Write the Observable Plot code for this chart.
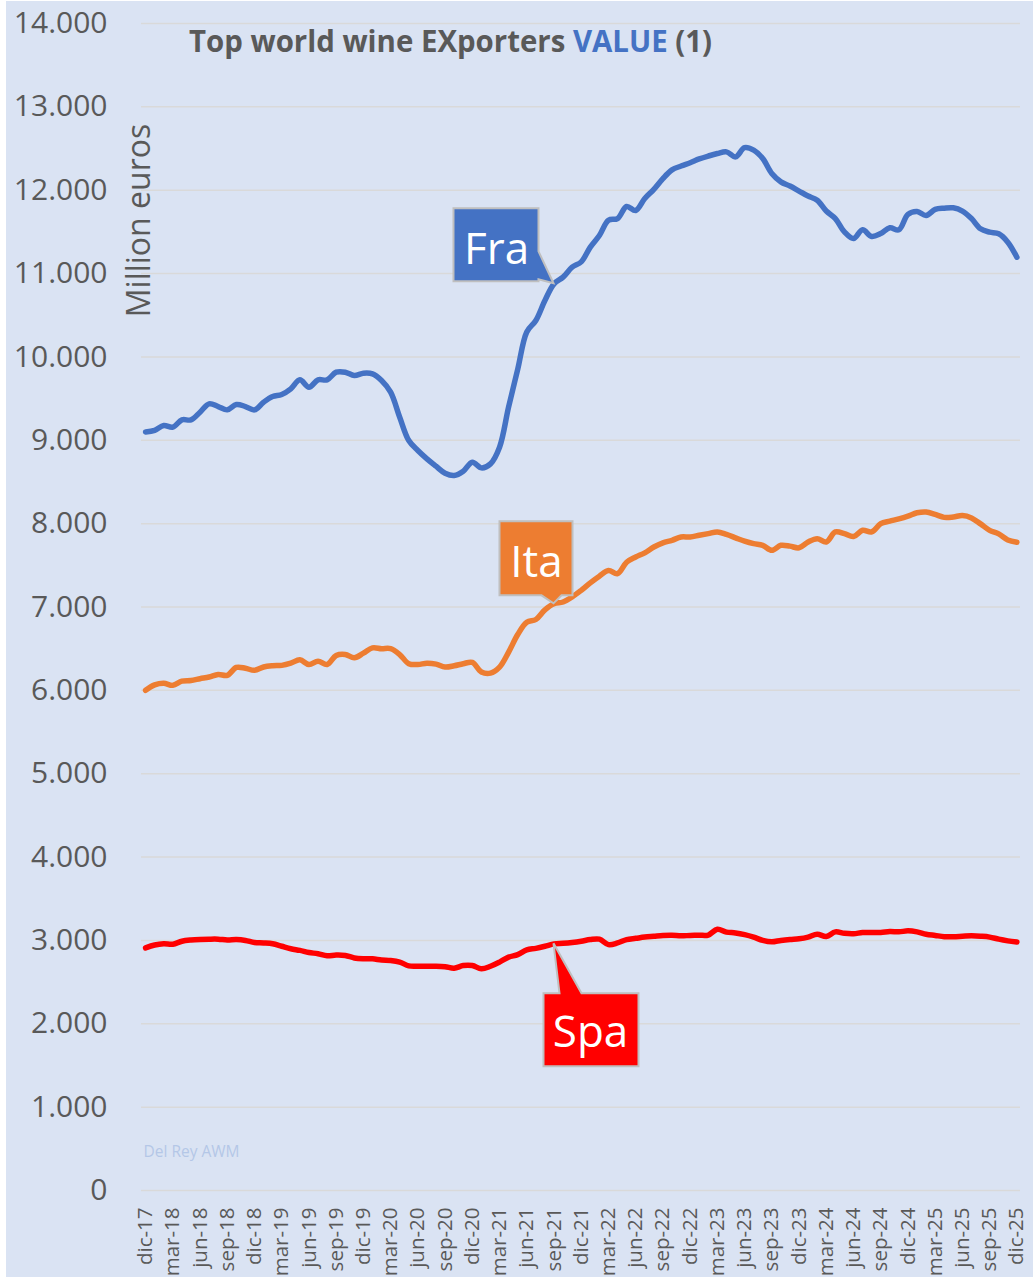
<!DOCTYPE html>
<html><head><meta charset="utf-8">
<script src="https://cdn.jsdelivr.net/npm/d3@7"></script>
<script src="https://cdn.jsdelivr.net/npm/@observablehq/plot@0.6"></script>
<style>
html,body{margin:0;padding:0;background:#fff;}
#wrap{position:relative;width:1033px;height:1277px;overflow:hidden;}
#bg{position:absolute;left:6px;top:1px;right:0;bottom:0;background:#dae3f3;}
#chart{position:absolute;left:0;top:0;}
#title{position:absolute;left:189px;top:20px;font-family:"Open Sans";font-weight:bold;font-size:30px;color:#595959;white-space:nowrap;transform-origin:0 0;}
</style></head><body>
<div id="wrap"><div id="bg"></div><div id="chart"></div><div id="title">Top world wine EXporters <span style="color:#4472c4">VALUE</span> (1)</div></div>
<script>
// Monthly values, dic-17 … dic-25 (million euros, moving annual total)
const fra = [9100, 9120, 9177, 9157, 9245, 9245, 9337, 9437, 9405, 9365,
  9429, 9405, 9365, 9457, 9525, 9549, 9617, 9725, 9637, 9725,
  9725, 9817, 9817, 9777, 9805, 9797, 9717, 9577, 9277, 8997,
  8877, 8777, 8689, 8605, 8577, 8629, 8737, 8669, 8717, 8917,
  9400, 9850, 10300, 10437, 10677, 10877, 10957, 11077, 11140, 11317,
  11457, 11640, 11660, 11805, 11757, 11900, 12010, 12140, 12244, 12290,
  12330, 12375, 12410, 12440, 12460, 12400, 12510, 12480, 12380, 12200,
  12100, 12050, 11990, 11930, 11880, 11750, 11660, 11500, 11420, 11525,
  11445, 11480, 11549, 11525, 11710, 11745, 11697, 11770, 11785, 11789,
  11750, 11660, 11537, 11497, 11477, 11377, 11196];
const ita = [6000, 6065, 6085, 6060, 6110, 6118, 6140, 6160, 6190, 6180,
  6275, 6265, 6240, 6280, 6295, 6300, 6326, 6366, 6310, 6350,
  6310, 6418, 6430, 6390, 6446, 6510, 6500, 6500, 6430, 6320,
  6310, 6326, 6315, 6280, 6295, 6320, 6335, 6220, 6206, 6278,
  6458, 6670, 6818, 6850, 6965, 7038, 7060, 7120, 7200, 7290,
  7370, 7437, 7400, 7537, 7600, 7650, 7720, 7770, 7800, 7840,
  7840, 7860, 7880, 7900, 7870, 7830, 7790, 7760, 7740, 7680,
  7740, 7730, 7710, 7780, 7820, 7780, 7900, 7880, 7845, 7920,
  7900, 8000, 8030, 8057, 8090, 8130, 8140, 8110, 8075, 8080,
  8097, 8069, 7997, 7920, 7877, 7805, 7777];
const spa = [2910, 2945, 2960, 2955, 2990, 3005, 3012, 3015, 3015, 3005,
  3010, 3000, 2975, 2970, 2960, 2930, 2900, 2880, 2855, 2840,
  2815, 2825, 2820, 2790, 2780, 2779, 2765, 2759, 2740, 2695,
  2691, 2691, 2691, 2685, 2667, 2699, 2699, 2660, 2690, 2740,
  2800, 2830, 2887, 2905, 2930, 2959, 2965, 2975, 2990, 3010,
  3015, 2950, 2970, 3010, 3025, 3040, 3050, 3060, 3063, 3055,
  3060, 3063, 3065, 3135, 3100, 3090, 3070, 3040, 3000, 2983,
  3000, 3012, 3020, 3040, 3075, 3047, 3103, 3085, 3080, 3095,
  3095, 3095, 3107, 3103, 3115, 3103, 3075, 3060, 3045, 3045,
  3050, 3055, 3050, 3040, 3015, 2995, 2980];
const countries = ["Fra", "Ita", "Spa"];
const colors = ["#4472c4", "#ed7d31", "#ff0000"];
const tickLabels = ["dic-17","mar-18","jun-18","sep-18","dic-18","mar-19","jun-19","sep-19","dic-19",
  "mar-20","jun-20","sep-20","dic-20","mar-21","jun-21","sep-21","dic-21","mar-22","jun-22","sep-22",
  "dic-22","mar-23","jun-23","sep-23","dic-23","mar-24","jun-24","sep-24","dic-24","mar-25","jun-25",
  "sep-25","dic-25"];
const yTicks = [0,1000,2000,3000,4000,5000,6000,7000,8000,9000,10000,11000,12000,13000,14000];
const labelMonth = 45; // callouts point at sep-21

const seriesValues = {Fra: fra, Ita: ita, Spa: spa};
const rows = [];
countries.forEach(c => seriesValues[c].forEach((v, i) => rows.push({i, v, country: c})));

const fmt = d3.formatLocale({decimal: ",", thousands: ".", grouping: [3], currency: ["", ""]}).format(",.0f");

// callout shapes (pixel offsets from the anchored data point)
const callouts = [
  {name: "Fra", fill: "#4472c4", shape: [[-100,-75],[-15,-75],[-15,-32],[0,0],[-15,-4],[-15,-2],[-100,-2]], text: [-57,-19]},
  {name: "Ita", fill: "#ed7d31", shape: [[-54,-82],[19,-82],[19,-8],[8,-8],[0,0],[-12,-8],[-54,-8]], text: [-17,-26]},
  {name: "Spa", fill: "#ff0000", shape: [[-10,50],[6,50],[0,0],[28,50],[85,50],[85,123],[-10,123]], text: [37,104]}
];
const NS = "http://www.w3.org/2000/svg";
function calloutMark(c) {
  return (index, scales) => {
    const vals = seriesValues[c.name];
    const ax = scales.x(labelMonth), ay = scales.y(vals[labelMonth]);
    const g = document.createElementNS(NS, "g");
    g.setAttribute("transform", `translate(${ax},${ay})`);
    const p = document.createElementNS(NS, "path");
    p.setAttribute("d", "M" + c.shape.map(q => q.join(",")).join("L") + "Z");
    p.setAttribute("fill", c.fill);
    p.setAttribute("stroke", "#bfbfbf");
    p.setAttribute("stroke-width", "2");
    p.setAttribute("stroke-linejoin", "miter");
    g.appendChild(p);
    const t = document.createElementNS(NS, "text");
    t.setAttribute("x", c.text[0]);
    t.setAttribute("y", c.text[1]);
    t.setAttribute("text-anchor", "middle");
    t.setAttribute("fill", "white");
    t.setAttribute("font-size", "44");
    t.setAttribute("font-family", "Open Sans");
    t.textContent = c.name;
    g.appendChild(t);
    return g;
  };
}

const chart = Plot.plot({
  width: 1033,
  height: 1277,
  marginTop: 23,
  marginBottom: 87,
  marginLeft: 141,
  marginRight: 13,
  style: {background: "transparent", fontFamily: "Open Sans", color: "#595959", overflow: "visible"},
  x: {domain: [-0.45, 96.4]},
  y: {domain: [0, 14000]},
  color: {domain: countries, range: colors},
  marks: [
    Plot.ruleY(yTicks, {stroke: "#d9d9d9", strokeWidth: 1.5}),
    Plot.axisY({ticks: yTicks, tickFormat: fmt, tickSize: 0, tickPadding: 34, fontSize: 30, color: "#595959", label: null}),
    Plot.axisX({ticks: d3.range(0, 97, 3), tickFormat: i => tickLabels[i / 3], tickRotate: -90, tickSize: 0, tickPadding: 17, fontSize: 20.5, color: "#595959", label: null}),
    Plot.text(["Million euros"], {frameAnchor: "top-left", dx: -2, dy: 197, rotate: -90, fontSize: 32, fill: "#595959", textAnchor: "middle", lineAnchor: "middle"}),
    Plot.text(["Del Rey AWM"], {frameAnchor: "bottom-left", dx: 2, dy: -38, fontSize: 15.5, fill: "#b4c7e7", textAnchor: "start", lineAnchor: "middle"}),
    Plot.line(rows, {x: "i", y: "v", z: "country", stroke: "country", strokeWidth: 5.5, curve: "catmull-rom", strokeLinecap: "round"}),
    ...callouts.map(calloutMark)
  ]
});
document.getElementById("chart").appendChild(chart);
const title = document.getElementById("title");
const w = title.getBoundingClientRect().width;
title.style.transform = `scaleX(${523 / w})`;
</script>
</body></html>
